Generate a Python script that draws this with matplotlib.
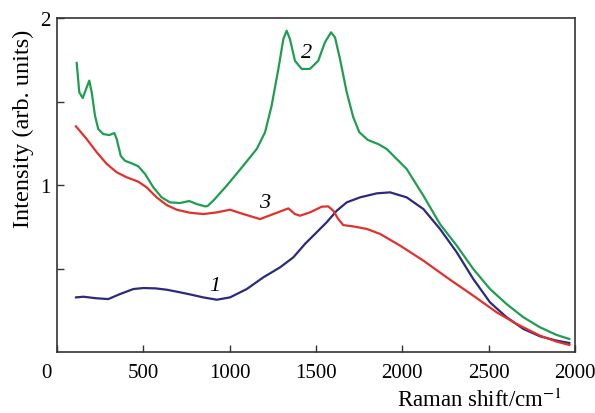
import numpy as np
import matplotlib.pyplot as plt
import matplotlib.transforms as mtransforms

plt.rcParams['font.family'] = ['Liberation Serif', 'DejaVu Serif']
plt.rcParams['mathtext.fontset'] = 'stix'

# curve 1 (navy)
x1 = [110, 153, 225, 297, 365, 442, 500, 570, 635, 700, 770, 847, 925, 1002, 1099, 1195,
      1292, 1369, 1436, 1504, 1562, 1620, 1678, 1755, 1852, 1929, 2025, 2122, 2218, 2315,
      2411, 2508, 2604, 2701, 2797, 2894, 2967]
y1 = [0.327, 0.331, 0.322, 0.317, 0.347, 0.377, 0.383, 0.381, 0.373, 0.360, 0.345, 0.327,
      0.313, 0.327, 0.377, 0.447, 0.507, 0.567, 0.647, 0.717, 0.777, 0.846, 0.896, 0.926,
      0.950, 0.956, 0.926, 0.856, 0.737, 0.597, 0.437, 0.297, 0.208, 0.138, 0.094, 0.068,
      0.054]

# curve 2 (green)
x2 = [114, 129, 149, 172, 187, 201, 220, 239, 268, 303, 332, 346, 369, 394, 432, 471, 510,
      558, 606, 654, 712, 766, 809, 857, 872, 905, 983, 1079, 1157, 1205, 1243, 1282, 1311,
      1330, 1349, 1378, 1417, 1465, 1513, 1552, 1587, 1610, 1639, 1678, 1716, 1751, 1800,
      1860, 1909, 2025, 2122, 2218, 2315, 2411, 2508, 2604, 2701, 2797, 2894, 2967]
y2 = [1.731, 1.555, 1.521, 1.585, 1.625, 1.555, 1.415, 1.335, 1.305, 1.299, 1.311, 1.275,
      1.175, 1.145, 1.130, 1.112, 1.066, 0.986, 0.926, 0.896, 0.892, 0.904, 0.886, 0.872,
      0.874, 0.906, 0.996, 1.116, 1.216, 1.316, 1.475, 1.695, 1.874, 1.924, 1.874, 1.744,
      1.695, 1.695, 1.744, 1.855, 1.914, 1.884, 1.754, 1.555, 1.405, 1.316, 1.270, 1.245,
      1.216, 1.096, 0.936, 0.766, 0.637, 0.497, 0.377, 0.287, 0.208, 0.148, 0.102, 0.078]

# curve 3 (red)
x3 = [110, 172, 230, 288, 346, 404, 471, 519, 577, 635, 693, 770, 847, 925, 1002, 1079,
      1176, 1253, 1340, 1378, 1407, 1465, 1533, 1571, 1600, 1629, 1658, 1716, 1794, 1871,
      1987, 2122, 2257, 2411, 2546, 2662, 2797, 2894, 2967]
y3 = [1.351, 1.275, 1.196, 1.126, 1.076, 1.046, 1.020, 0.986, 0.926, 0.880, 0.852, 0.834,
      0.826, 0.836, 0.852, 0.826, 0.796, 0.826, 0.860, 0.826, 0.816, 0.836, 0.870, 0.872,
      0.846, 0.796, 0.760, 0.752, 0.737, 0.707, 0.637, 0.547, 0.447, 0.337, 0.238, 0.168,
      0.098, 0.062, 0.042]

xticks = [0, 500, 1000, 1500, 2000, 2500, 3000]
xticklabels = ['0', '500', '1000', '1500', '2000', '2500', '2000']

fig = plt.figure(figsize=(5.95, 4.14), dpi=100)
ax = fig.add_axes([57/595, 61/414, 518/595, 334/414])

ax.plot(x1, y1, color='#2b2a7c', lw=1.6, solid_joinstyle='round')
ax.plot(x2, y2, color='#1f9e50', lw=1.6, solid_joinstyle='round')
ax.plot(x3, y3, color='#e2312b', lw=1.6, solid_joinstyle='round')

ax.set_xlim(0, 3000)
ax.set_ylim(0, 2)
ax.set_xticks(xticks)
ax.set_xticklabels(xticklabels)
ax.set_yticks([0.5, 1, 1.5, 2])
ax.set_yticklabels(['', '1', '', '2'])
ax.tick_params(direction='in', length=5, width=1, labelsize=15, pad=8, color='#333333')
ax.tick_params(axis='y', pad=5)
for s in ax.spines.values():
    s.set_linewidth(1.2)
    s.set_color('#333333')

# the "0" label sits a bit left of the corner in the original
lab0 = ax.get_xticklabels()[0]
lab0.set_transform(lab0.get_transform() + mtransforms.ScaledTranslation(-11/100, 0, fig.dpi_scale_trans))

fig.text(23/595, 1 - 129/414, 'Intensity (arb. units)', fontsize=17.5, rotation=90,
         ha='center', va='center')
fig.text(562/595, 7/414, 'Raman shift/cm$^{-1}$', fontsize=16.5, ha='right', va='baseline')

ax.text(1446, 1.795, '2', fontsize=16, style='italic', ha='center', va='center')
ax.text(1205, 0.896, '3', fontsize=16, style='italic', ha='center', va='center')
ax.text(915, 0.397, '1', fontsize=16, style='italic', ha='center', va='center')

fig.savefig('out.png', dpi=100)
